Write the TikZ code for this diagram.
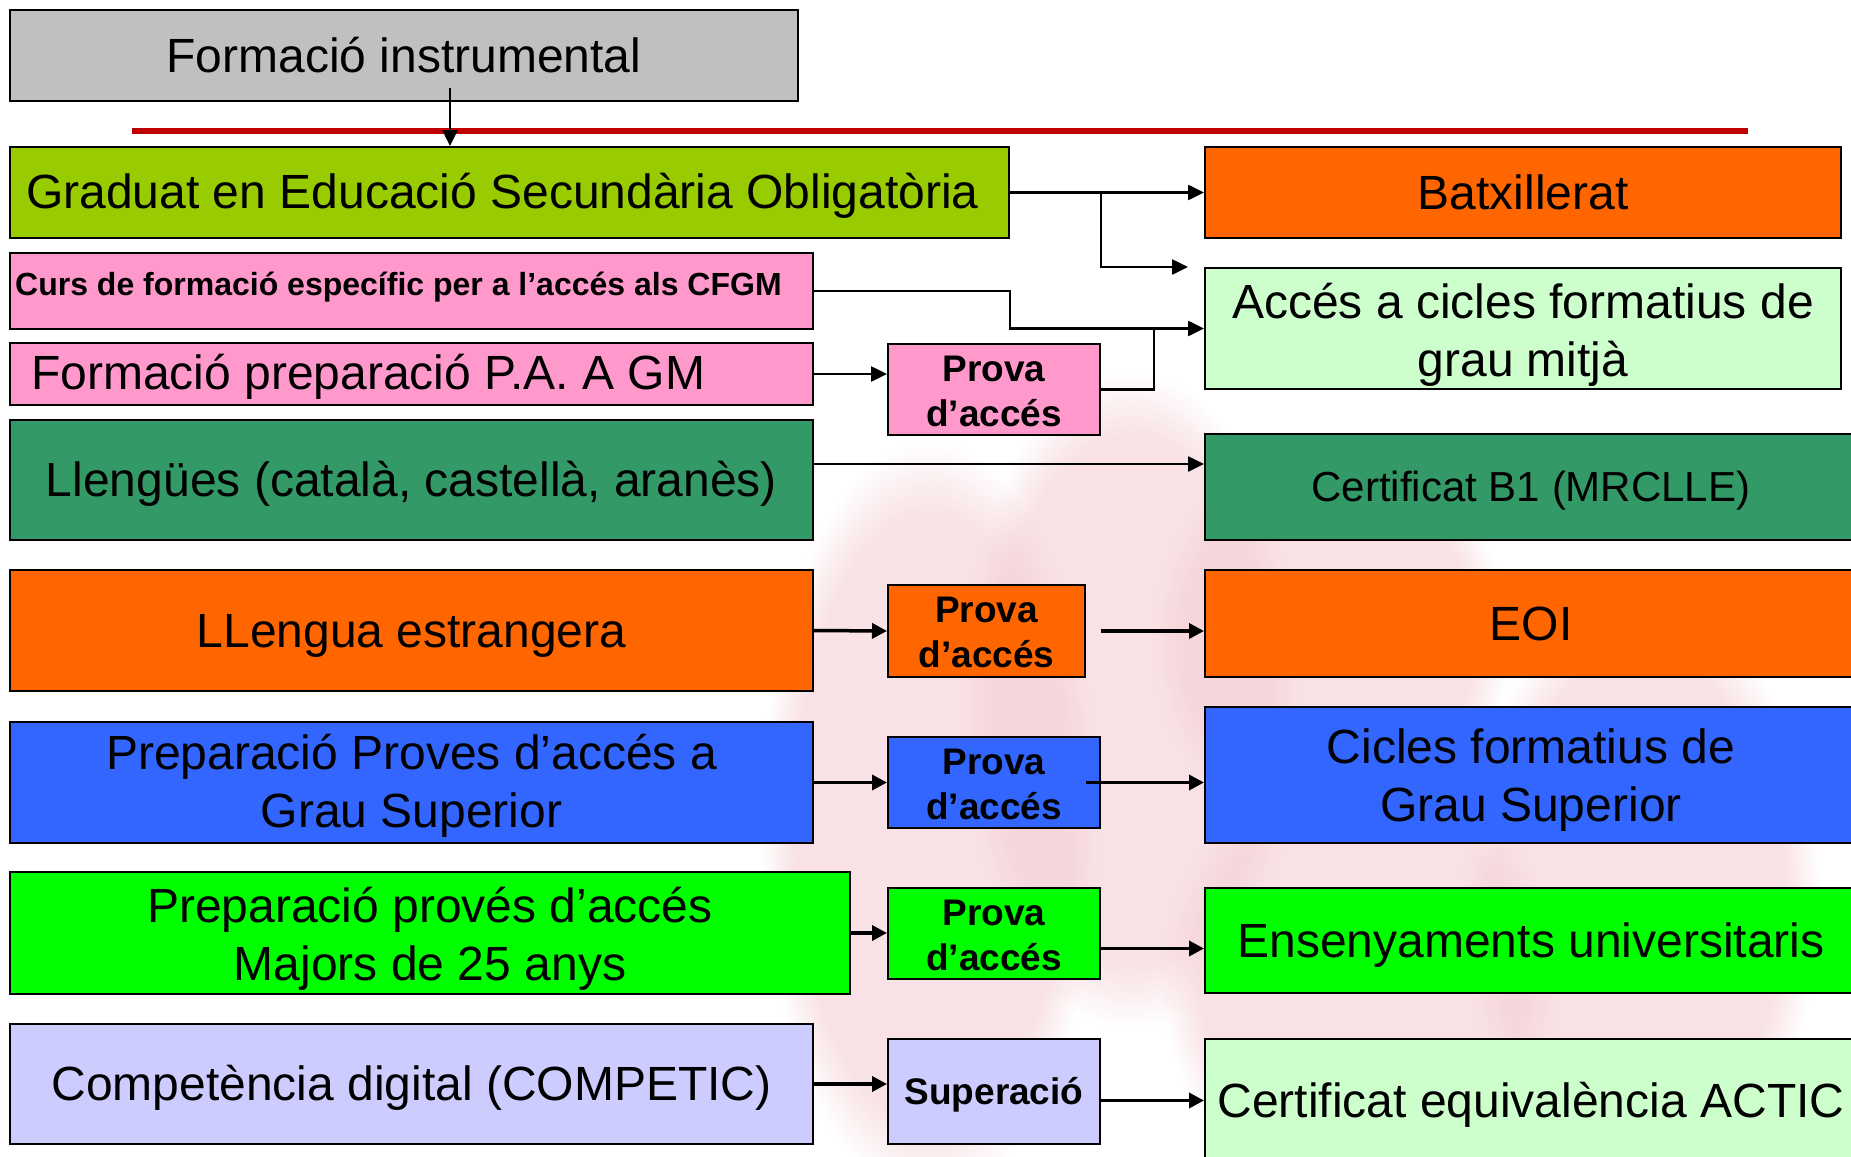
\documentclass[tikz,border=0pt]{standalone}
\usepackage{fontspec}
\setmainfont{Liberation Sans}
\usetikzlibrary{arrows.meta,calc,fadings}
\definecolor{cgray}{HTML}{C0C0C0}
\definecolor{cgeso}{HTML}{99CC00}
\definecolor{cpink}{HTML}{FF99CC}
\definecolor{csea}{HTML}{339966}
\definecolor{corange}{HTML}{FF6600}
\definecolor{cblue}{HTML}{3366FF}
\definecolor{cgreen}{HTML}{00FF00}
\definecolor{clav}{HTML}{CCCCFF}
\definecolor{clgreen}{HTML}{CCFFCC}
\definecolor{cred}{HTML}{C00000}
\definecolor{wmpink}{HTML}{F3CBD0}
\newcommand\fbig{\fontsize{48}{58}\selectfont}
\newcommand\fmidsize{\fontsize{42}{50}\selectfont}
\newcommand\fprova{\bfseries\fontsize{37}{45}\selectfont}
\newcommand\fcurs{\bfseries\fontsize{32}{38}\selectfont}
\newcommand\lnstrut{\rule[-0.212em]{0pt}{1.117em}}
\newcommand\tstr[1]{\rule{0pt}{#1}}
\begin{document}
\begin{tikzpicture}[x=1pt,y=-1pt,
  box/.style={draw=black, line width=2pt, inner sep=0pt, anchor=north west, align=center, font=\fbig,
    execute at begin node=\lnstrut, execute at end node=\lnstrut},
  pbox/.style={box, font=\fprova},
  ltext/.style={anchor=west, inner sep=0pt, execute at begin node=\lnstrut},
  arr/.style={line width=2.5pt, -{Triangle[length=16pt,width=15pt]}},
  arrb/.style={line width=3.5pt, -{Triangle[length=15pt,width=15pt]}},
  con/.style={line width=2.5pt},
  wm/.style={wmpink, path fading=circle with fuzzy edge 20 percent, fill opacity=0.55}]
\useasboundingbox (0,0) rectangle (1851,1156);
\clip (0,0) rectangle (1851,1156);
% faint watermark
\fill[wm] (930,820) ellipse (170pt and 380pt);
\fill[wm] (1130,700) ellipse (170pt and 330pt);
\fill[wm] (1330,640) ellipse (180pt and 200pt);
\fill[wm] (1360,980) ellipse (200pt and 220pt);
\fill[wm] (1640,900) ellipse (180pt and 300pt);
% red rule
\draw[cred, line width=6pt] (132,131) coordinate (rl) -- (1748,131) coordinate (rr);
% left column
\node[box, fill=cgray, minimum width=788pt, minimum height=91pt] (fi) at (9,9) {Formació instrumental};
\node[box, fill=cgeso, minimum width=999pt, minimum height=91pt] (geso) at (9,146) {};
\node[ltext, font=\fbig] (gesot) at (26,191.5) {Graduat en Educació Secundària Obligatòria};
\node[box, fill=cpink, minimum width=803pt, minimum height=76pt] (curs) at (9,252) {};
\node[ltext, font=\fcurs] (curst) at (15,284) {Curs de formació específic per a l’accés als CFGM};
\node[box, fill=cpink, minimum width=803pt, minimum height=62pt] (fprep) at (9,342) {};
\node[ltext, font=\fbig] (fprept) at (31,373) {Formació preparació P.A. A GM};
\node[box, fill=csea, minimum width=803pt, minimum height=120pt] (lleng) at (9,419) {Llengües (català, castellà, aranès)};
\node[box, fill=corange, minimum width=803pt, minimum height=121pt] (lest) at (9,569) {LLengua estrangera};
\node[box, fill=cblue, minimum width=803pt, minimum height=121pt] (pgs) at (9,721) {\tstr{43pt}Preparació Proves d’accés a\\Grau Superior};
\node[box, fill=cgreen, minimum width=840pt, minimum height=122pt] (m25) at (9,871) {\tstr{48pt}Preparació provés d’accés\\Majors de 25 anys};
\node[box, fill=clav, minimum width=803pt, minimum height=120pt] (comp) at (9,1023) {Competència digital (COMPETIC)};
% middle column
\node[pbox, fill=cpink, minimum width=212pt, minimum height=91pt] (prova1) at (887,343) {\tstr{36pt}Prova\\d’accés};
\node[pbox, fill=corange, minimum width=197pt, minimum height=92pt] (prova2) at (887,584) {\tstr{36pt}Prova\\d’accés};
\node[pbox, fill=cblue, minimum width=212pt, minimum height=91pt] (prova3) at (887,736) {\tstr{36pt}Prova\\d’accés};
\node[pbox, fill=cgreen, minimum width=212pt, minimum height=91pt] (prova4) at (887,887) {\tstr{36pt}Prova\\d’accés};
\node[pbox, fill=clav, minimum width=212pt, minimum height=105pt] (sup) at (887,1038) {Superació};
% right column
\node[box, fill=corange, minimum width=636pt, minimum height=91pt] (batx) at (1204,146) {Batxillerat};
\node[box, fill=clgreen, minimum width=636pt, minimum height=121pt] (acc) at (1204,267) {\tstr{48pt}Accés a cicles formatius de\\grau mitjà};
\node[box, fill=csea, minimum width=652pt, minimum height=106pt, font=\fmidsize] (cb1) at (1204,433) {Certificat B1 (MRCLLE)};
\node[box, fill=corange, minimum width=652pt, minimum height=107pt] (eoi) at (1204,569) {EOI};
\node[box, fill=cblue, minimum width=652pt, minimum height=136pt] (cgs) at (1204,706) {\tstr{45pt}Cicles formatius de\\Grau Superior};
\node[box, fill=cgreen, minimum width=652pt, minimum height=105pt] (ens) at (1204,887) {Ensenyaments universitaris};
\node[box, fill=clgreen, minimum width=652pt, minimum height=124pt] (actic) at (1204,1038) {Certificat equivalència ACTIC};
% connectors
\draw[arr] ([xshift=46pt,yshift=14pt]fi.south) coordinate (a1) -- (a1 |- geso.north);
\draw[arr] (geso.east) -- (batx.west);
\draw[arr] (geso.east -| prova1.east) |- ([xshift=-16pt]acc.north west);
\draw[arr] (curs.east) -- (curs.east -| geso.east) -- (geso.east |- acc.west) -- (acc.west);
\draw[con] (prova1.east) -- ++(53,0) coordinate (j1) -- (j1 |- acc.west);
\draw[arr] (fprep.east) -- (fprep.east -| prova1.west);
\draw[arr] ([yshift=16pt]lleng.east) coordinate (a2) -- (a2 -| cb1.west);
\draw[arrb] (lest.east) -- (prova2.west);
\draw[arrb] ([xshift=15pt]prova2.east) coordinate (a3) -- (a3 -| eoi.west);
\draw[arrb] (pgs.east) -- (prova3.west);
\draw[arrb] ([xshift=-15pt]prova3.east) coordinate (a4) -- (a4 -| cgs.west);
\draw[arrb] (m25.east) -- (m25.east -| prova4.west);
\draw[arrb] ([yshift=-15pt]prova4.east) coordinate (a5) -- (a5 -| ens.west);
\draw[arrb] (comp.east) -- (comp.east -| sup.west);
\draw[arrb] ([yshift=-9pt]sup.east) coordinate (a6) -- (a6 -| actic.west);
\end{tikzpicture}
\end{document}
